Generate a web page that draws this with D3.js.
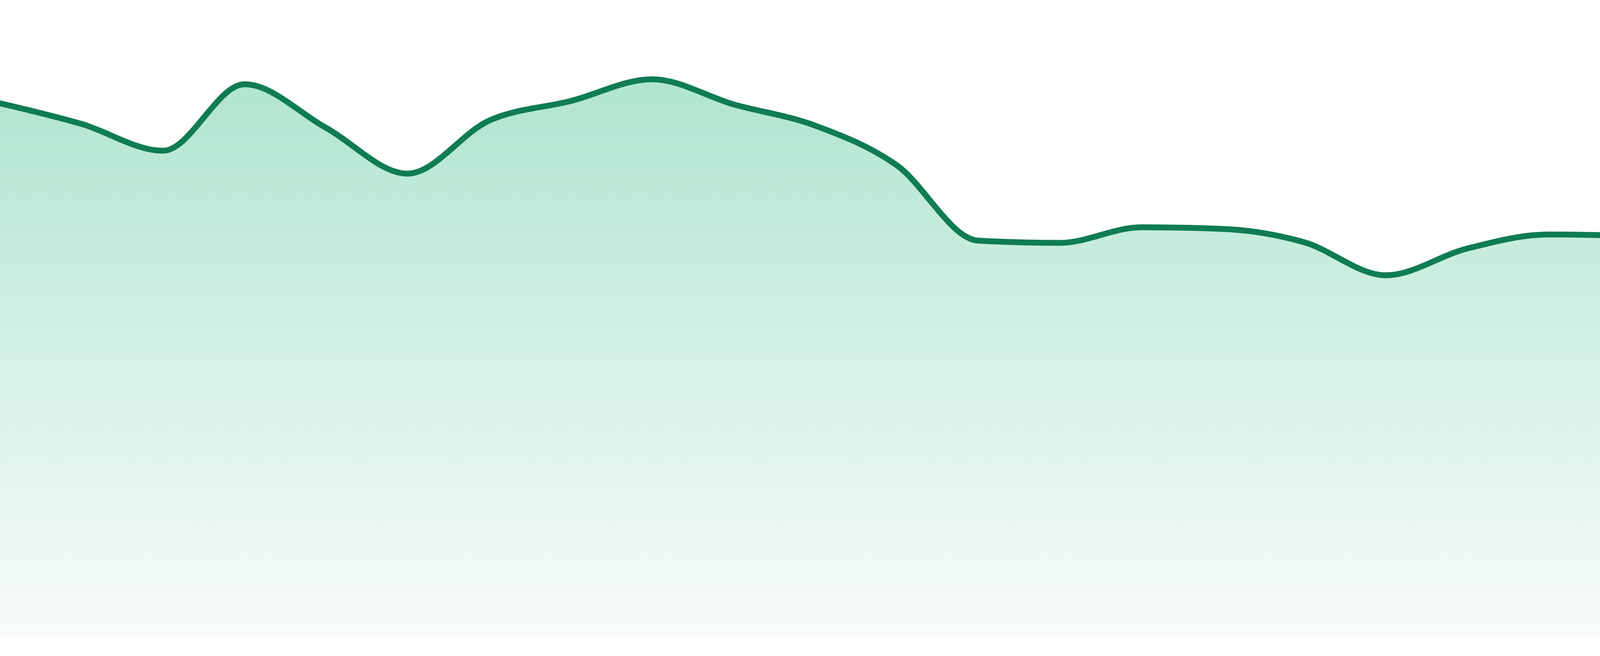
<!DOCTYPE html>
<html>
<head>
<meta charset="utf-8">
<script src="https://cdn.jsdelivr.net/npm/d3@7"></script>
<style>
  html, body { margin: 0; padding: 0; background: #ffffff; }
  svg { display: block; }
</style>
</head>
<body>
<div id="chart"></div>
<script>
// ---- data ----
const categories = d3.range(24).map(i => "P" + (i + 1));
const values = [
  95.7, 92.0, 87.2, 99.1, 91.3, 83.1, 92.6, 96.1, 100.0, 95.5, 91.7, 84.6,
  71.1, 70.7, 73.5, 73.2, 70.8, 64.9, 69.7, 72.2, 71.9, 68.3, 71.8, 67.4
];
const yDomain = [0, 100];

// ---- layout ----
const W = 4800, H = 1680;
const plotTop = 203, plotBottom = 1633;

const svg = d3.select("#chart").append("svg")
  .attr("width", W).attr("height", H)
  .attr("viewBox", `0 0 ${W} ${H}`);

const x = d3.scalePoint().domain(categories).range([0, W]);
const y = d3.scaleLinear().domain(yDomain).range([plotBottom, plotTop]);

const data = categories.map((c, i) => ({ c, v: values[i] }));

const defs = svg.append("defs");
const grad = defs.append("linearGradient")
  .attr("id", "fillGrad")
  .attr("gradientUnits", "userSpaceOnUse")
  .attr("x1", 0).attr("x2", 0)
  .attr("y1", y(d3.max(values))).attr("y2", plotBottom);
grad.append("stop").attr("offset", "0%").attr("stop-color", "#b0e5d0");
grad.append("stop").attr("offset", "100%").attr("stop-color", "#f9fcfb");

const area = d3.area()
  .curve(d3.curveMonotoneX)
  .x(d => x(d.c))
  .y0(plotBottom)
  .y1(d => y(d.v));

const line = d3.line()
  .curve(d3.curveMonotoneX)
  .x(d => x(d.c))
  .y(d => y(d.v));

svg.append("path")
  .datum(data)
  .attr("d", area)
  .attr("fill", "url(#fillGrad)");

svg.append("path")
  .datum(data)
  .attr("d", line)
  .attr("fill", "none")
  .attr("stroke", "#107c52")
  .attr("stroke-width", 15)
  .attr("stroke-linejoin", "round")
  .attr("stroke-linecap", "round");
</script>
</body>
</html>
